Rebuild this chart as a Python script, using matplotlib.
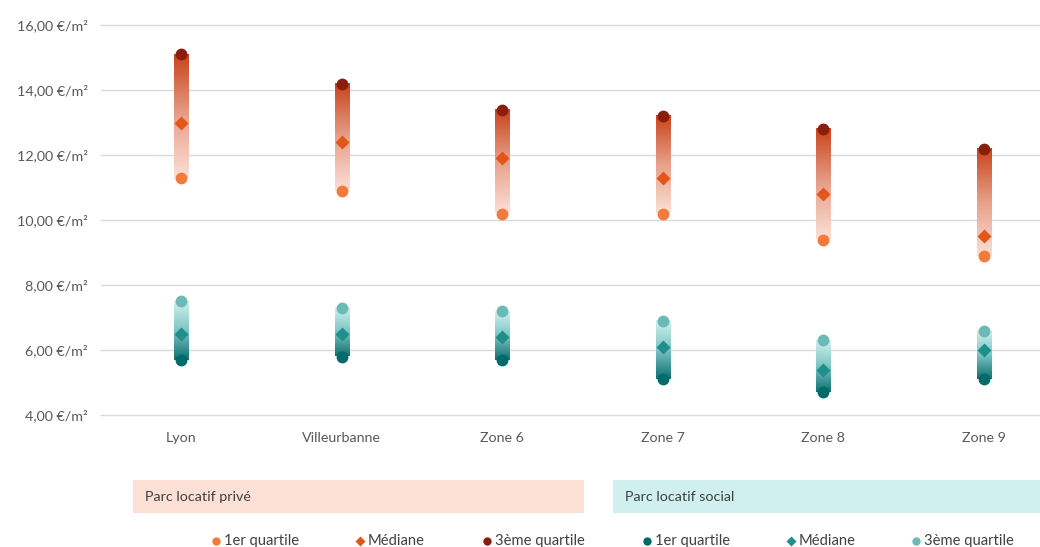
import numpy as np
import matplotlib
matplotlib.use("Agg")
import matplotlib.pyplot as plt
from matplotlib.colors import LinearSegmentedColormap
from matplotlib.patches import Rectangle

plt.rcParams['font.family'] = ['Lato', 'DejaVu Sans']

categories = ["Lyon", "Villeurbanne", "Zone 6", "Zone 7", "Zone 8", "Zone 9"]
prive_q1 = [11.3, 10.9, 10.2, 10.2, 9.4, 8.9]
prive_med = [13.0, 12.4, 11.9, 11.3, 10.8, 9.5]
prive_q3 = [15.1, 14.2, 13.4, 13.2, 12.8, 12.2]
social_q1 = [5.7, 5.8, 5.7, 5.1, 4.7, 5.1]
social_med = [6.5, 6.5, 6.4, 6.1, 5.4, 6.0]
social_q3 = [7.5, 7.3, 7.2, 6.9, 6.3, 6.6]
yticks = [4, 6, 8, 10, 12, 14, 16]
ytick_labels = ["4,00 €/m²", "6,00 €/m²", "8,00 €/m²", "10,00 €/m²", "12,00 €/m²", "14,00 €/m²", "16,00 €/m²"]
legend_groups = ["Parc locatif privé", "Parc locatif social"]
legend_items = ["1er quartile", "Médiane", "3ème quartile"]

c_p_q1, c_p_med, c_p_q3 = "#f47a3c", "#e2561a", "#8a1e0e"
c_s_q1, c_s_med, c_s_q3 = "#016a6a", "#1f8f8b", "#6cbab7"

cmap_p = LinearSegmentedColormap.from_list("p", ["#fbe0d6", "#e7a08a", "#c9431b"])
cmap_s = LinearSegmentedColormap.from_list("s", ["#0f6f70", "#7cc5c3", "#d2f1ef"])

W, H = 1040, 547
fig = plt.figure(figsize=(W / 100, H / 100), dpi=100)
ax = fig.add_axes([101 / W, 132 / H, 939 / W, 390 / H])
ax.set_yticks(yticks)
ax.set_yticklabels(ytick_labels, color="#595959", fontsize=10.3)
ax.set_xticks(range(len(categories)))
ax.set_xticklabels(categories, color="#595959", fontsize=10.3)
ax.tick_params(axis='x', length=0, pad=12)
ax.tick_params(axis='y', length=0, pad=9.5)
for s in ax.spines.values():
    s.set_visible(False)
ax.grid(axis='y', color="#d9d9d9", linewidth=1)
for gl in ax.get_ygridlines():
    gl.set_clip_on(False)
ax.set_axisbelow(True)

grad = np.linspace(0, 1, 256).reshape(-1, 1)
bw = 0.044
x = np.arange(len(categories))
for i in x:
    ax.imshow(grad, cmap=cmap_p, extent=(i - bw, i + bw, prive_q1[i], prive_q3[i]),
              origin='lower', aspect='auto', zorder=2)
    ax.imshow(grad, cmap=cmap_s, extent=(i - bw, i + bw, social_q1[i], social_q3[i]),
              origin='lower', aspect='auto', zorder=2)
ax.set_xlim(-0.5, 5.35)
ax.set_ylim(4, 16)

ms = 8.5
ax.plot(x, prive_q1, 'o', color=c_p_q1, ms=ms, mec='none', zorder=3)
ax.plot(x, prive_med, 'D', color=c_p_med, ms=7.5, mec='none', zorder=3)
ax.plot(x, prive_q3, 'o', color=c_p_q3, ms=ms, mec='none', zorder=3)
ax.plot(x, social_q1, 'o', color=c_s_q1, ms=ms, mec='none', zorder=3)
ax.plot(x, social_med, 'D', color=c_s_med, ms=7.5, mec='none', zorder=3)
ax.plot(x, social_q3, 'o', color=c_s_q3, ms=ms, mec='none', zorder=3)

# legend area in pixel coordinates
lax = fig.add_axes([0, 0, 1, 1], zorder=-1)
lax.set_xlim(0, W)
lax.set_ylim(H, 0)
lax.axis('off')
lax.add_patch(Rectangle((133, 480), 451, 33, color="#fce0d6", lw=0))
lax.add_patch(Rectangle((613, 480), 427, 33, color="#d0f0ef", lw=0))
lax.text(145, 497, legend_groups[0], fontsize=10.3, color="#404040", va='center')
lax.text(625, 497, legend_groups[1], fontsize=10.3, color="#404040", va='center')

lx = [216, 360, 487, 647, 791, 916]
lm = ['o', 'D', 'o', 'o', 'D', 'o']
lc = [c_p_q1, c_p_med, c_p_q3, c_s_q1, c_s_med, c_s_q3]
for j in range(6):
    lax.plot([lx[j]], [541], lm[j], color=lc[j], ms=6 if lm[j] == 'o' else 5, mec='none')
    lax.text(lx[j] + 8, 541, legend_items[j % 3], fontsize=10.6, color="#404040", va='center')

fig.savefig("out.png", dpi=100)
